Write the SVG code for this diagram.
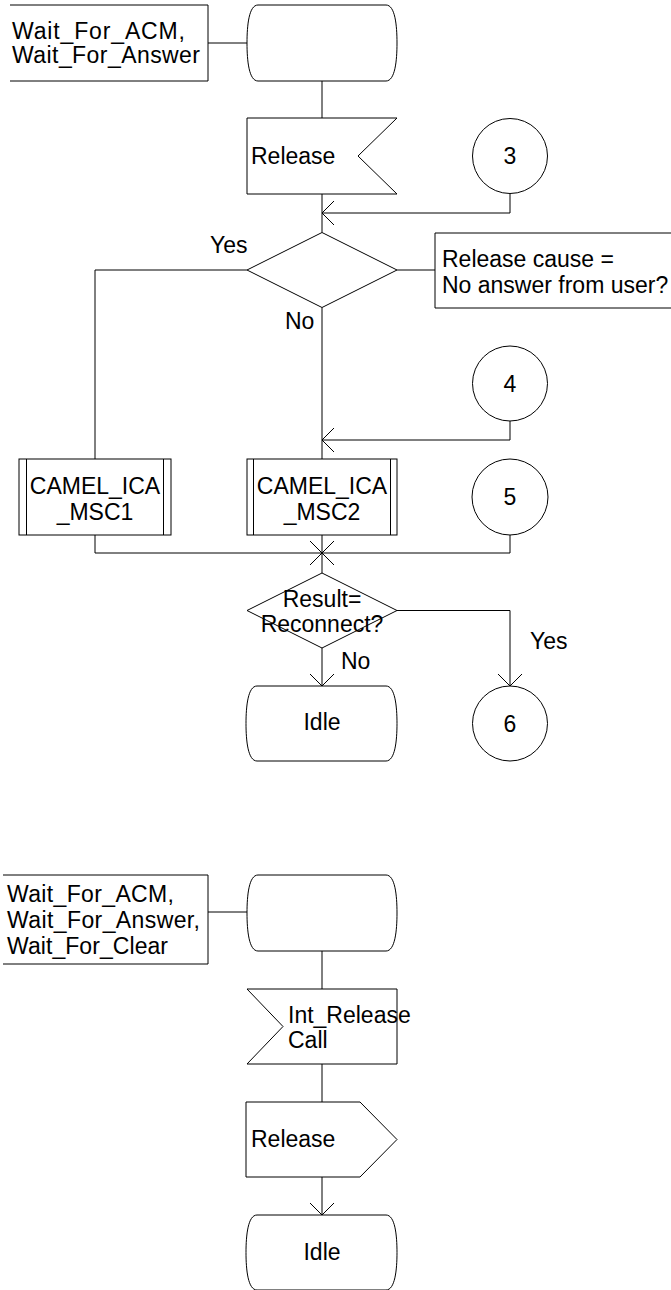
<svg xmlns="http://www.w3.org/2000/svg" width="671" height="1290" viewBox="0 0 671 1290">
<style>
.s{fill:#fff;stroke:#000;stroke-width:1}
.l{fill:none;stroke:#000;stroke-width:1}
text{font-family:"Liberation Sans",Arial,sans-serif;font-size:23px;fill:#000}
.m{text-anchor:middle}
</style>
<defs>
<marker id="arr" markerUnits="userSpaceOnUse" markerWidth="26" markerHeight="26" refX="13" refY="13" orient="auto" overflow="visible">
<path d="M1,1 L13,13 L1,25" fill="none" stroke="#000" stroke-width="1"/>
</marker>
</defs>
<rect x="0" y="0" width="671" height="1290" fill="#fff"/>
<g id="connectors">
<path class="l" d="M208,43 H247"/>
<path class="l" d="M322,81 V118"/>
<path class="l" d="M322,194 V232.5"/>
<path class="l" d="M510,193.5 V213 H322" marker-end="url(#arr)"/>
<path class="l" d="M247,270 H95 V459"/>
<path class="l" d="M397,270 H435"/>
<path class="l" d="M322,307.5 V459"/>
<path class="l" d="M510,421 V440 H322" marker-end="url(#arr)"/>
<path class="l" d="M95,535 V553 H322" marker-end="url(#arr)"/>
<path class="l" d="M510,535 V553 H322" marker-end="url(#arr)"/>
<path class="l" d="M322,535 V573"/>
<path class="l" d="M397,610.5 H510 V686" marker-end="url(#arr)"/>
<path class="l" d="M322,648 V686" marker-end="url(#arr)"/>
<path class="l" d="M208,912 H247"/>
<path class="l" d="M322,951 V989"/>
<path class="l" d="M322,1064 V1102"/>
<path class="l" d="M322,1177 V1215" marker-end="url(#arr)"/>
<text x="210" y="253">Yes</text>
<text x="285" y="329">No</text>
<text x="530" y="649">Yes</text>
<text x="341" y="669">No</text>
</g>
<g id="states1">
<path class="l" d="M208,5 H10 M10,81 H208 V5"/>
<text x="12" y="39" textLength="173" lengthAdjust="spacing">Wait_For_ACM,</text>
<text x="12" y="63" textLength="188" lengthAdjust="spacing">Wait_For_Answer</text>
</g>
<g id="start1">
<path class="s" d="M258,5 H386 C395,5 397,25 397,43 C397,61 395,81 386,81 H258 C249,81 247,61 247,43 C247,25 249,5 258,5 Z"/>
</g>
<g id="release_in">
<polygon class="s" points="247,118 397,118 358,156 397,194 247,194"/>
<text x="251" y="164">Release</text>
</g>
<g id="conn3">
<circle class="s" cx="510" cy="156" r="37.5"/>
<text class="m" x="510" y="164">3</text>
</g>
<g id="decision1">
<polygon class="s" points="322,232.5 397,270 322,307.5 247,270"/>
</g>
<g id="comment1">
<path class="s" d="M680,233 H435 V308 H680"/>
<text x="442" y="267">Release cause =</text>
<text x="442" y="293">No answer from user?</text>
</g>
<g id="conn4">
<circle class="s" cx="510" cy="383.5" r="37.5"/>
<text class="m" x="510" y="391.5">4</text>
</g>
<g id="msc1">
<rect class="s" x="19" y="459" width="152" height="76"/>
<path class="l" d="M26.5,459 V535 M163.5,459 V535"/>
<text class="m" x="95" y="494">CAMEL_ICA</text>
<text class="m" x="95" y="520">_MSC1</text>
</g>
<g id="msc2">
<rect class="s" x="247" y="459" width="150" height="76"/>
<path class="l" d="M253.5,459 V535 M390.5,459 V535"/>
<text class="m" x="322" y="494">CAMEL_ICA</text>
<text class="m" x="322" y="520">_MSC2</text>
</g>
<g id="conn5">
<circle class="s" cx="510" cy="497" r="38"/>
<text class="m" x="510" y="505">5</text>
</g>
<g id="decision2">
<polygon class="s" points="322,573 397,610.5 322,648 247,610.5"/>
<text class="m" x="322" y="607">Result=</text>
<text class="m" x="322" y="632">Reconnect?</text>
</g>
<g id="idle1">
<path class="s" d="M257,686 H386 C395,686 397,706 397,723.5 C397,741 395,761 386,761 H257 C248,761 246,741 246,723.5 C246,706 248,686 257,686 Z"/>
<text class="m" x="322" y="730">Idle</text>
</g>
<g id="conn6">
<circle class="s" cx="510" cy="723.5" r="37.5"/>
<text class="m" x="510" y="731.5">6</text>
</g>
<g id="states2">
<path class="l" d="M208,875 H3 M3,964 H208 V875"/>
<text x="7" y="902" textLength="167" lengthAdjust="spacing">Wait_For_ACM,</text>
<text x="7" y="928" textLength="193" lengthAdjust="spacing">Wait_For_Answer,</text>
<text x="7" y="954" textLength="161" lengthAdjust="spacing">Wait_For_Clear</text>
</g>
<g id="start2">
<path class="s" d="M258,875 H386 C395,875 397,895 397,913 C397,931 395,951 386,951 H258 C249,951 247,931 247,913 C247,895 249,875 258,875 Z"/>
</g>
<g id="int_release">
<polygon class="s" points="247,989 397,989 397,1064 247,1064 283,1026.5"/>
<text x="288" y="1023">Int_Release</text>
<text x="288" y="1048">Call</text>
</g>
<g id="release_out">
<polygon class="s" points="246,1102 360,1102 397,1139.5 360,1177 246,1177"/>
<text x="251" y="1147">Release</text>
</g>
<g id="idle2">
<path class="s" d="M257,1215 H386 C395,1215 397,1235 397,1252.5 C397,1270 395,1290 386,1290 H257 C248,1290 246,1270 246,1252.5 C246,1235 248,1215 257,1215 Z"/>
<text class="m" x="322" y="1260">Idle</text>
</g>
</svg>
